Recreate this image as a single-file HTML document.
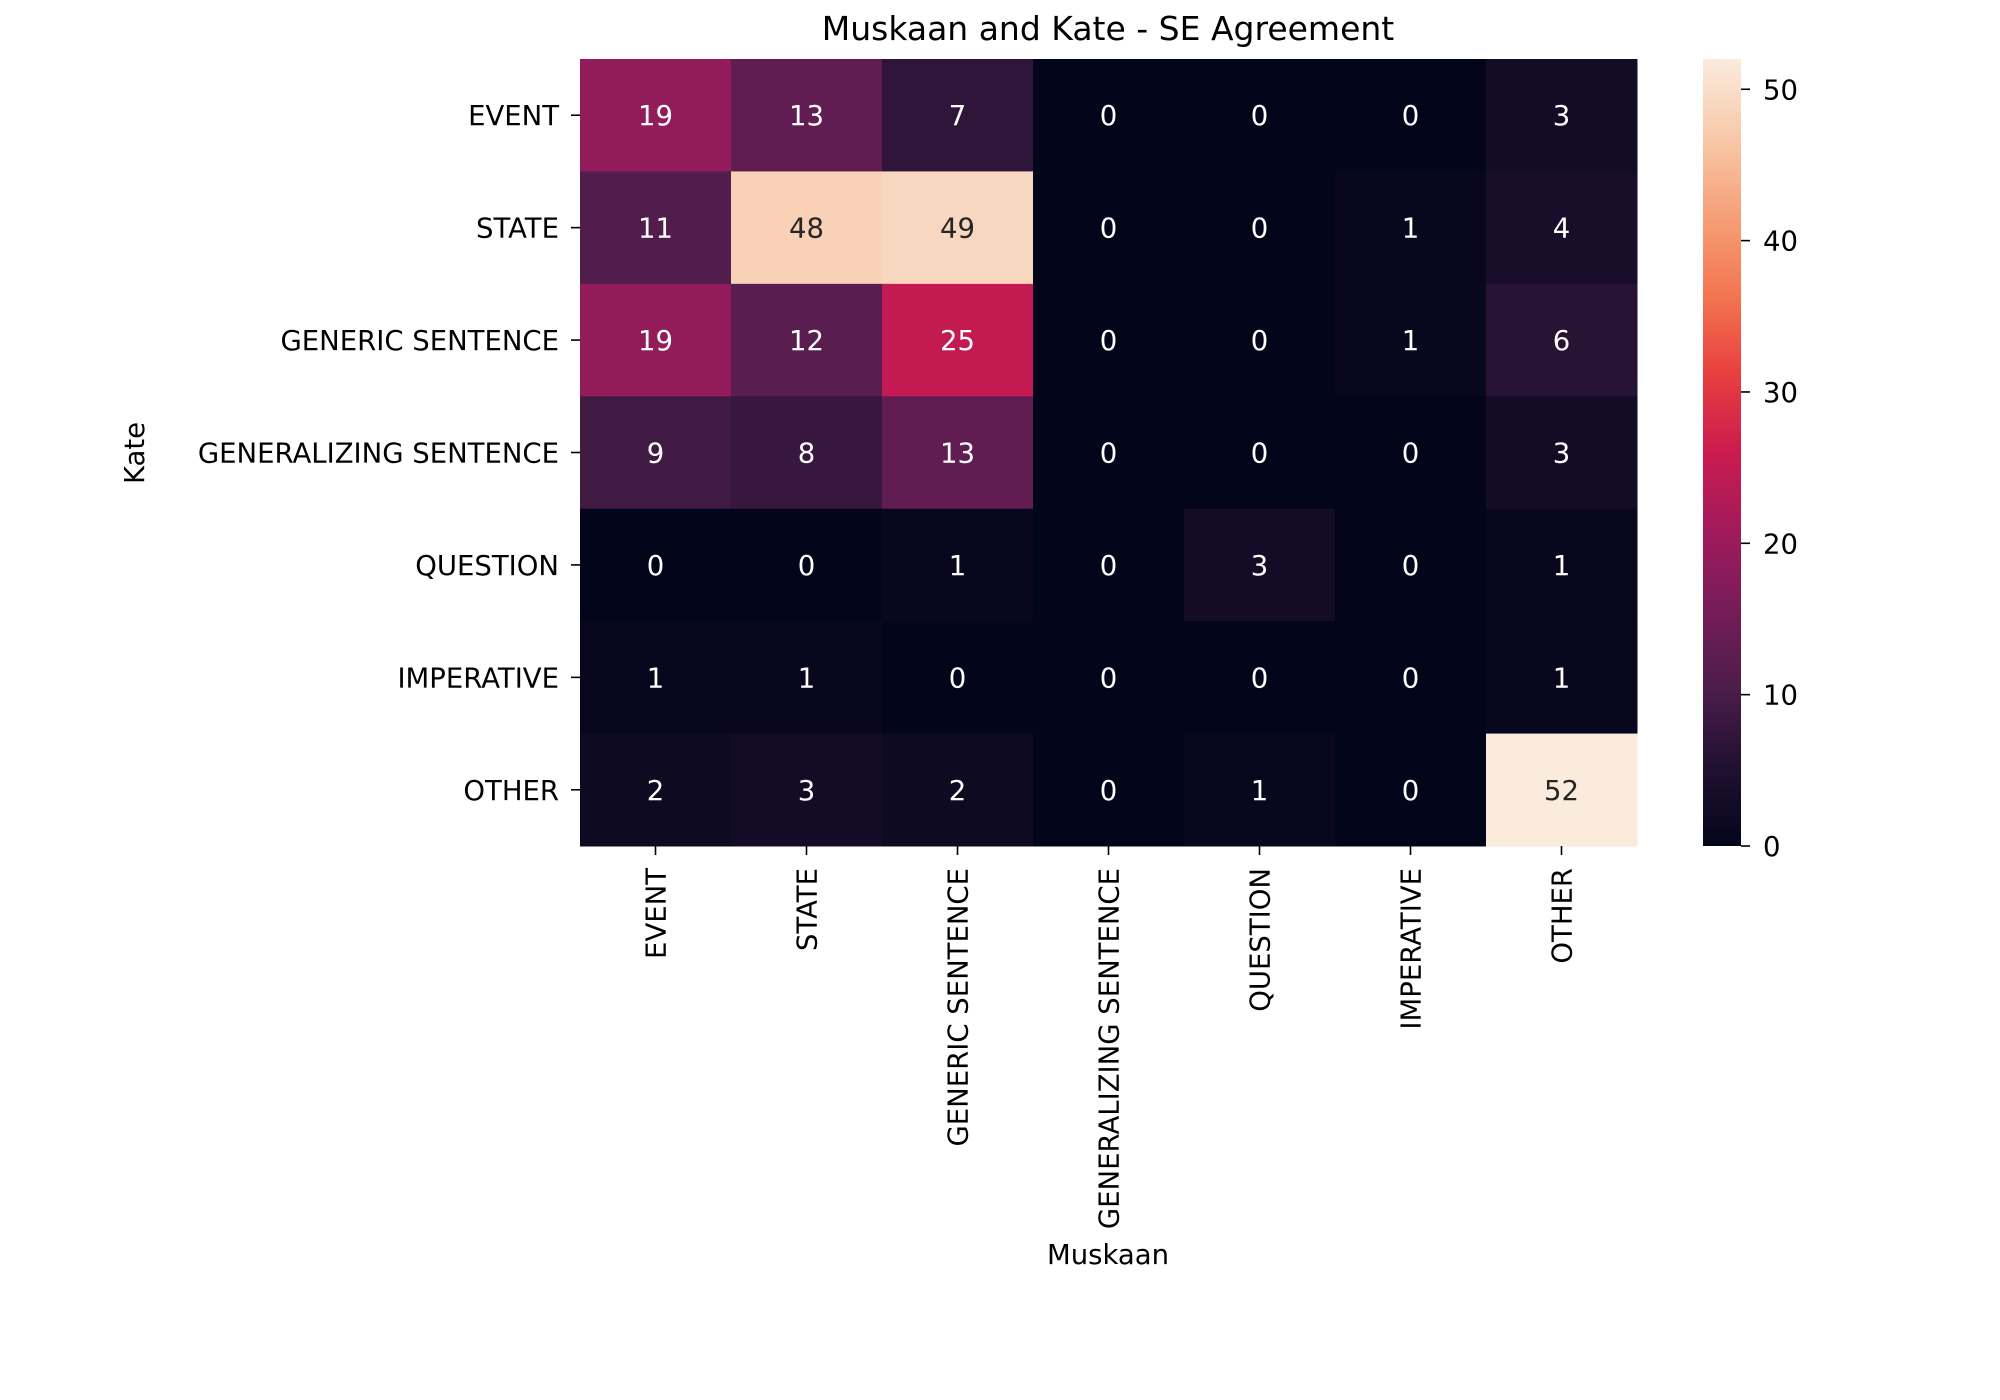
<!DOCTYPE html>
<html><head><meta charset="utf-8"><style>
body{margin:0;background:#fff;}
svg{display:block;font-family:"DejaVu Sans","Liberation Sans",sans-serif;}
</style></head><body>
<svg id="chart" width="2000" height="1400">
<text x="1108" y="40" font-size="33" text-anchor="middle">Muskaan and Kate - SE Agreement</text>
<text transform="translate(144,453) rotate(-90)" font-size="27.5" text-anchor="middle">Kate</text>
<text x="1108" y="1264" font-size="27.5" text-anchor="middle">Muskaan</text>
<g id="cells"></g><g id="ticks"></g><g id="cbar"></g>
</svg>
<script>
const rowLabels=["EVENT","STATE","GENERIC SENTENCE","GENERALIZING SENTENCE","QUESTION","IMPERATIVE","OTHER"];
const colLabels=["EVENT","STATE","GENERIC SENTENCE","GENERALIZING SENTENCE","QUESTION","IMPERATIVE","OTHER"];
const values=[
[19,13,7,0,0,0,3],
[11,48,49,0,0,1,4],
[19,12,25,0,0,1,6],
[9,8,13,0,0,0,3],
[0,0,1,0,3,0,1],
[1,1,0,0,0,0,1],
[2,3,2,0,1,0,52]];
const cbarTicks=[0,10,20,30,40,50];
const vmin=0,vmax=52;
const X0=580,Y0=59,W=1057,H=787;
const cw=W/colLabels.length, ch=H/rowLabels.length;
const NS="http://www.w3.org/2000/svg";
const stops=[[0,[3,5,26]],[0.1,[32,17,47]],[0.2,[76,29,75]],[0.3,[118,28,89]],[0.4,[161,26,91]],[0.5,[203,27,79]],[0.6,[232,63,63]],[0.7,[243,118,81]],[0.8,[246,160,119]],[0.9,[247,201,170]],[1,[250,235,221]]];
function cmap(t){t=Math.max(0,Math.min(1,t));for(let i=1;i<stops.length;i++){if(t<=stops[i][0]){const a=stops[i-1],b=stops[i];const f=(t-a[0])/(b[0]-a[0]);const c=a[1].map((v,k)=>Math.round(v+(b[1][k]-v)*f));return `rgb(${c})`;}}return "rgb(250,235,221)";}
function el(tag,attrs,parent){const e=document.createElementNS(NS,tag);for(const k in attrs)e.setAttribute(k,attrs[k]);parent.appendChild(e);return e;}
const xs=j=>X0+j*cw, ys=i=>Y0+i*ch;
const FS=27.5;
const cells=document.getElementById('cells');
values.forEach((row,i)=>row.forEach((v,j)=>{
 const t=(v-vmin)/(vmax-vmin);
 const r=el('rect',{x:xs(j),y:ys(i),width:cw+0.5,height:ch+0.5,fill:cmap(t)},cells);
 
 
 const tx=el('text',{x:xs(j)+cw/2,y:ys(i)+ch/2+10,'font-size':FS,'text-anchor':'middle',fill:t>0.6?'#262626':'#fff'},cells);
 tx.textContent=v;
 
 
}));
const tk=document.getElementById('ticks');
rowLabels.forEach((l,i)=>{
 const y=ys(i)+ch/2;
 el('line',{x1:X0-9,x2:X0,y1:y,y2:y,stroke:'#000','stroke-width':1.6},tk);
 const t=el('text',{x:X0-21,y:y+10,'font-size':FS,'text-anchor':'end'},tk);
 t.textContent=l;
 
 
});
colLabels.forEach((l,j)=>{
 const x=xs(j)+cw/2;
 el('line',{x1:x,x2:x,y1:Y0+H,y2:Y0+H+9,stroke:'#000','stroke-width':1.6},tk);
 const t=el('text',{transform:`translate(${x+10},${Y0+H+22}) rotate(-90)`,'font-size':FS,'text-anchor':'end'},tk);
 t.textContent=l;
 
 
});
const cb=document.getElementById('cbar');
const CX=1703,CW=38;
const defs=el('defs',{},cb);
const g=el('linearGradient',{id:'cg',x1:0,y1:1,x2:0,y2:0},defs);
for(let k=0;k<=20;k++){el('stop',{offset:k/20,'stop-color':cmap(k/20)},g);}
const cr=el('rect',{x:CX,y:Y0,width:CW,height:H,fill:'url(#cg)'},cb);


const cy=v=>Y0+H-(v-vmin)/(vmax-vmin)*H;
cbarTicks.forEach(v=>{
 el('line',{x1:CX+CW,x2:CX+CW+9,y1:cy(v),y2:cy(v),stroke:'#000','stroke-width':1.6},cb);
 const t=el('text',{x:CX+CW+22,y:cy(v)+10,'font-size':FS},cb);
 t.textContent=v;
 
 
});
</script>
</body></html>
